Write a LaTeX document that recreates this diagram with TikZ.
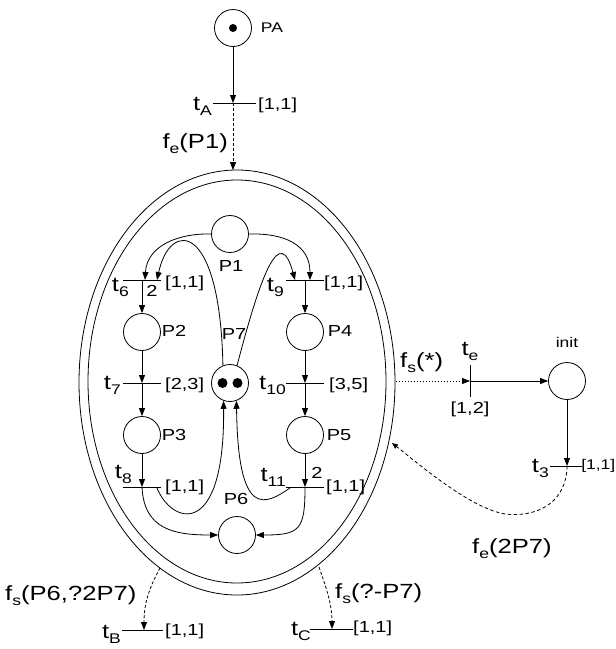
\documentclass[tikz,border=0pt]{standalone}
\usepackage{fontspec}
\setmainfont{Liberation Sans}[FakeStretch=1.25]
\usetikzlibrary{arrows.meta}
\newcommand\fA{\fontsize{16}{18}\selectfont}
\newcommand\fB{\fontsize{20.5}{22}\selectfont}
\newcommand\fC{\fontsize{14}{16}\selectfont}
\newcommand\mysub[1]{\raisebox{-5pt}{\fontsize{14}{14}\selectfont #1}}
\begin{document}
\begin{tikzpicture}[x=1pt,y=-1pt,
  place/.style={circle,draw,minimum size=37pt,inner sep=0pt,line width=0.8pt},
  tok/.style={circle,fill,minimum size=#1,inner sep=0pt},
  lab/.style={inner sep=0pt,font=\fA},
  tlab/.style={inner sep=0pt,font=\fB},
  slab/.style={inner sep=0pt,font=\fC},
  bar/.style={line width=0.8pt},
  arr/.style={line width=0.8pt,-{Triangle[length=8pt,width=6pt]}},
  darr/.style={line width=0.8pt,dash pattern=on 3pt off 2pt,-{Triangle[length=8pt,width=6pt]}},
  dotarr/.style={line width=0.8pt,dash pattern=on 1.5pt off 1.5pt,-{Triangle[length=8pt,width=6pt]}},
  dsharr/.style={line width=0.8pt,dash pattern=on 3.5pt off 2.5pt,-{Triangle[length=6pt,width=5pt]}}
]
\useasboundingbox (0,0) rectangle (616,649);
% enclosing double ellipse
\draw[line width=0.8pt] (237,382.5) ellipse [x radius=158, y radius=212.5];
\draw[line width=0.8pt] (237,381.5) ellipse [x radius=149, y radius=201.5];
\coordinate (eTop) at (233,170.1);
\coordinate (eR) at (395.5,381);
\coordinate (eR2) at (392,443);
\coordinate (eBL) at (160,568);
\coordinate (eBR) at (319,567);

% places
\node[place] (PA) at (233,28) {};
\node[tok=8pt] at (PA) {};
\node[place] (P1) at (230,234) {};
\node[place] (P2) at (142,332) {};
\node[place] (P3) at (142,435) {};
\node[place] (P4) at (305,332) {};
\node[place] (P5) at (305,435) {};
\node[place] (P6) at (237,535) {};
\node[place] (P7) at (230,383) {};
\node[tok=10pt] at (222.5,383) {};
\node[tok=10pt] at (237.5,383) {};
\node[place] (init) at (567,381) {};

% transitions
\coordinate (tA) at (233,103);
\coordinate (t6) at (142,280);
\coordinate (t7) at (142,383);
\coordinate (t8) at (142,487);
\coordinate (t9) at (305,280);
\coordinate (t10) at (305,383);
\coordinate (t11) at (305,487);
\coordinate (te) at (470,381);
\coordinate (t3) at (567,466);
\coordinate (tB) at (144,630);
\coordinate (tC) at (332,629);
\coordinate (t6a) at (145,280);
\coordinate (t6b) at (157,280);
\coordinate (t9a) at (295,280);
\coordinate (t9b) at (310,280);
\coordinate (t8r) at (157,488);
\coordinate (t11l) at (290,488);

\draw[bar] ([xshift=-20pt]tA) -- ([xshift=23pt]tA);
\foreach \t in {t6,t7,t8,t9,t10,t11}{
  \draw[bar] ([xshift=-19pt]\t) -- ([xshift=19pt]\t);
}
\draw[bar] ([yshift=16pt]te) -- ([yshift=-16pt]te);
\draw[bar] ([xshift=-17pt]t3) -- ([xshift=14.5pt]t3);
\draw[bar] ([xshift=-22pt]tB) -- ([xshift=19pt]tB);
\draw[bar] ([xshift=-22pt]tC) -- ([xshift=21pt]tC);

% arcs
\draw[arr] (PA) -- (tA);
\draw[darr] (tA) -- (eTop);
\draw[arr] (P1.west) .. controls (180,233) and (147,245) .. (t6a);
\draw[arr] (P7.112) .. controls (220,220) and (170,220) .. (t6b);
\draw[arr] (P1.east) .. controls (285,233) and (310,245) .. (t9b);
\draw[arr] (P7.68) .. controls (262,270) and (280,225) .. (t9a);
\draw[arr] (t6) -- (P2);
\draw[arr] (P2) -- (t7);
\draw[arr] (t7) -- (P3);
\draw[arr] (P3) -- (t8);
\draw[arr] (t9) -- (P4);
\draw[arr] (P4) -- (t10);
\draw[arr] (t10) -- (P5);
\draw[arr] (P5) -- (t11);
\draw[arr] (t8) .. controls (144,530) and (175,535) .. (P6.west);
\draw[arr] (t11) .. controls (305,530) and (300,535) .. (P6.east);
\draw[arr] (t8r) .. controls (172,525) and (225,540) .. (P7.-110);
\draw[arr] (t11l) .. controls (265,505) and (238,520) .. (P7.-70);
\draw[dotarr] (eR) -- (te);
\draw[arr] (te) -- (init);
\draw[arr] (init) -- (t3);
\draw[dsharr] (t3) .. controls (567,500) and (540,518) .. (505,514)
   .. controls (470,508) and (420,465) .. (eR2);
\draw[darr] (eBL) .. controls (148,590) and (144,605) .. (tB);
\draw[darr] (eBR) .. controls (327,590) and (332,605) .. (tC);

% labels
\node[slab] (lPA) at (272,28) {PA};
\node[tlab,anchor=base east] (ltA) at (212,110) {t\mysub{A}};
\node[lab,anchor=west] (lqA) at (258,105) {[1,1]};
\node[tlab,anchor=base east] (lfe1) at (228,148) {f\mysub{e}(P1)};
\node[tlab,anchor=base east] (lt6) at (129,291) {t\mysub{6}};
\node[lab] (lw6) at (152,291) {2};
\node[lab,anchor=west] (lq6) at (165,283) {[1,1]};
\node[lab] (lP1) at (231,266) {P1};
\node[lab] (lP2) at (174,331) {P2};
\node[lab] (lP7) at (234,334) {P7};
\node[lab] (lP4) at (340,331) {P4};
\node[tlab,anchor=base east] (lt9) at (284,291) {t\mysub{9}};
\node[lab,anchor=west] (lq9) at (324,283) {[1,1]};
\node[tlab,anchor=base east] (lt7) at (121,389) {t\mysub{7}};
\node[lab,anchor=west] (lq7) at (165,385) {[2,3]};
\node[tlab,anchor=base east] (lt10) at (286,389) {t\mysub{10}};
\node[lab,anchor=west] (lq10) at (329,385) {[3,5]};
\node[lab] (lP3) at (174,435) {P3};
\node[lab] (lP5) at (339,435) {P5};
\node[tlab,anchor=base east] (lt8) at (132,478) {t\mysub{8}};
\node[lab,anchor=west] (lq8) at (165,487) {[1,1]};
\node[lab] (lP6) at (236,499) {P6};
\node[tlab,anchor=base east] (lt11) at (286,481) {t\mysub{11}};
\node[lab] (lw11) at (317,473) {2};
\node[lab,anchor=west] (lq11) at (326,487) {[1,1]};
\node[tlab,anchor=base west] (lfs) at (400,367) {f\mysub{s}(*)};
\node[tlab,anchor=base] (lte) at (470,355) {t\mysub{e}};
\node[lab] (lqe) at (470,409) {[1,2]};
\node[slab] (linit) at (567,342) {init};
\node[tlab,anchor=base east] (lt3) at (549,472) {t\mysub{3}};
\node[inner sep=0pt,font=\fC,anchor=east] (lq3) at (615.5,466) {[1,1]};
\node[tlab,anchor=base west] (lfe2) at (472,553) {f\mysub{e}(2P7)};
\node[tlab,anchor=base west] (lfsB) at (5,600) {f\mysub{s}(P6,?2P7)};
\node[tlab,anchor=base east] (ltB) at (121,638) {t\mysub{B}};
\node[lab,anchor=west] (lqB) at (165,631) {[1,1]};
\node[tlab,anchor=base west] (lfsC) at (335,598) {f\mysub{s}(?-P7)};
\node[tlab,anchor=base east] (ltC) at (311,635) {t\mysub{C}};
\node[lab,anchor=west] (lqC) at (353,628) {[1,1]};
\end{tikzpicture}
\end{document}
